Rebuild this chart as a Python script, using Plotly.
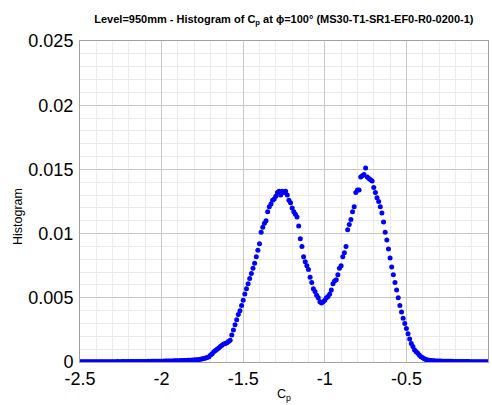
import numpy as np
import plotly.graph_objects as go

# Histogram bins: Cp from -2.50 to 0.00, step 0.01
bin_start = -2.5
bin_width = 0.01
hist_values = [
    # -2.50 .. -2.41
    0.00001, 0.00001, 0.00001, 0.00001, 0.00001, 0.00001, 0.00001, 0.00002, 0.00001, 0.00001,
    # -2.40 .. -2.31
    0.00001, 0.00002, 0.00001, 0.00002, 0.00002, 0.00001, 0.00002, 0.00002, 0.00002, 0.00002,
    # -2.30 .. -2.21
    0.00002, 0.00002, 0.00002, 0.00003, 0.00002, 0.00002, 0.00003, 0.00003, 0.00002, 0.00003,
    # -2.20 .. -2.11
    0.00003, 0.00003, 0.00003, 0.00003, 0.00004, 0.00003, 0.00004, 0.00004, 0.00004, 0.00004,
    # -2.10 .. -2.01
    0.00004, 0.00004, 0.00005, 0.00004, 0.00005, 0.00005, 0.00005, 0.00006, 0.00005, 0.00006,
    # -2.00 .. -1.91
    0.00006, 0.00006, 0.00007, 0.00007, 0.00007, 0.00008, 0.00008, 0.00008, 0.00009, 0.00009,
    # -1.90 .. -1.81
    0.00010, 0.00010, 0.00011, 0.00011, 0.00012, 0.00012, 0.00013, 0.00014, 0.00014, 0.00015,
    # -1.80 .. -1.71
    0.00016, 0.00017, 0.00018, 0.00020, 0.00022, 0.00025, 0.00028, 0.00031, 0.00036, 0.00041,
    # -1.70 .. -1.61
    0.00054, 0.00065, 0.00080, 0.00090, 0.00100, 0.00110, 0.00120, 0.00130, 0.00140, 0.00145,
    # -1.60 .. -1.51
    0.0015, 0.0016, 0.0017, 0.0021, 0.0025, 0.0029, 0.0033, 0.0037, 0.0040, 0.0044,
    # -1.50 .. -1.41
    0.0048, 0.0053, 0.0057, 0.0061, 0.0065, 0.0069, 0.0073, 0.0077, 0.0082, 0.0087,
    # -1.40 .. -1.31
    0.0092, 0.0101, 0.0105, 0.0108, 0.0110, 0.0117, 0.0121, 0.0123, 0.0126, 0.0127,
    # -1.30 .. -1.21
    0.0129, 0.0132, 0.0133, 0.0130, 0.0133, 0.0132, 0.0133, 0.0130, 0.0126, 0.0124,
    # -1.20 .. -1.11
    0.0120, 0.0117, 0.0115, 0.0113, 0.0106, 0.0096, 0.0090, 0.0082, 0.0078, 0.0075,
    # -1.10 .. -1.01
    0.0072, 0.0066, 0.0062, 0.0057, 0.0055, 0.0052, 0.0050, 0.0047, 0.0046, 0.0047,
    # -1.00 .. -0.91
    0.0048, 0.0050, 0.0051, 0.0053, 0.0056, 0.0061, 0.0063, 0.0064, 0.0068, 0.0073,
    # -0.90 .. -0.81
    0.0075, 0.0082, 0.0085, 0.0090, 0.0103, 0.0107, 0.0111, 0.0117, 0.0121, 0.0132,
    # -0.80 .. -0.71
    0.0134, 0.0134, 0.0144, 0.0145, 0.0146, 0.0151, 0.0144, 0.0143, 0.0142, 0.0141,
    # -0.70 .. -0.61
    0.0136, 0.0132, 0.0128, 0.0125, 0.0121, 0.0116, 0.0109, 0.0101, 0.0095, 0.0088,
    # -0.60 .. -0.51
    0.0081, 0.0074, 0.0068, 0.0062, 0.0056, 0.0050, 0.0044, 0.0039, 0.0034, 0.0030,
    # -0.50 .. -0.41
    0.0026, 0.0022, 0.0018, 0.00145, 0.0012, 0.00093, 0.0008, 0.00068, 0.00052, 0.00041,
    # -0.40 .. -0.31
    0.00033, 0.00026, 0.00020, 0.00016, 0.00013, 0.00011, 0.00010, 0.00009, 0.00008, 0.00008,
    # -0.30 .. -0.21
    0.00007, 0.00007, 0.00006, 0.00006, 0.00006, 0.00005, 0.00005, 0.00005, 0.00005, 0.00004,
    # -0.20 .. -0.11
    0.00004, 0.00004, 0.00004, 0.00003, 0.00003, 0.00003, 0.00003, 0.00003, 0.00003, 0.00002,
    # -0.10 .. -0.01
    0.00002, 0.00002, 0.00002, 0.00002, 0.00002, 0.00002, 0.00001, 0.00002, 0.00001, 0.00001,
    # 0.00
    0.00001,
]
cp_values = np.round(bin_start + bin_width * np.arange(len(hist_values)), 2)

x_tickvals = [-2.5, -2, -1.5, -1, -0.5, 0]
x_ticktext = ["-2.5", "-2", "-1.5", "-1", "-0.5", "0"]
y_tickvals = [0, 0.005, 0.01, 0.015, 0.02, 0.025]
y_ticktext = ["0", "0.005", "0.01", "0.015", "0.02", "0.025"]

title_text = "Level=950mm - Histogram of C<sub>p</sub> at \u03d5=100\u00b0 (MS30-T1-SR1-EF0-R0-0200-1)"

FONT = "Liberation Sans, Arial, sans-serif"

fig = go.Figure()
fig.add_trace(go.Scatter(
    x=cp_values, y=hist_values, mode="markers",
    marker=dict(color="#0000ff", size=5, line=dict(width=0)),
    showlegend=False,
))

axis_common = dict(
    showline=True, linecolor="#a0a0a0", linewidth=1, mirror=True,
    showgrid=True, gridcolor="#c8c8c8", gridwidth=1,
    zeroline=False, ticks="", ticklen=0,
    tickfont=dict(family=FONT, size=18, color="#000000"),
)

fig.update_layout(
    width=492, height=405,
    margin=dict(l=80, r=4, t=41, b=43),
    paper_bgcolor="#ffffff", plot_bgcolor="#ffffff",
    title=dict(text=title_text, x=0.577, xanchor="center", y=1 - 19 / 405, yanchor="middle",
               font=dict(family=FONT, size=11, color="#000000", weight="bold")),
    xaxis=dict(range=[-2.5, 0], tickmode="array", tickvals=x_tickvals, ticktext=x_ticktext,
               minor=dict(dtick=0.1, showgrid=True, gridcolor="#ebebeb", gridwidth=1, ticks=""),
               **axis_common),
    yaxis=dict(range=[0, 0.025], tickmode="array", tickvals=y_tickvals, ticktext=y_ticktext,
               minor=dict(dtick=0.001, showgrid=True, gridcolor="#ebebeb", gridwidth=1, ticks=""),
               ticklabelstandoff=2,
               **axis_common),
    annotations=[
        dict(text="Histogram", textangle=-90, xref="paper", yref="paper",
             x=(18 - 80) / 408, y=(362 - 217) / 321, showarrow=False,
             xanchor="center", yanchor="middle",
             font=dict(family=FONT, size=12.5, color="#000000")),
        dict(text="C<sub>p</sub>", xref="paper", yref="paper",
             x=(284 - 80) / 408, y=(362 - 395) / 321, showarrow=False,
             xanchor="center", yanchor="middle",
             font=dict(family=FONT, size=12.5, color="#000000")),
    ],
)

fig.write_html("out.html")
